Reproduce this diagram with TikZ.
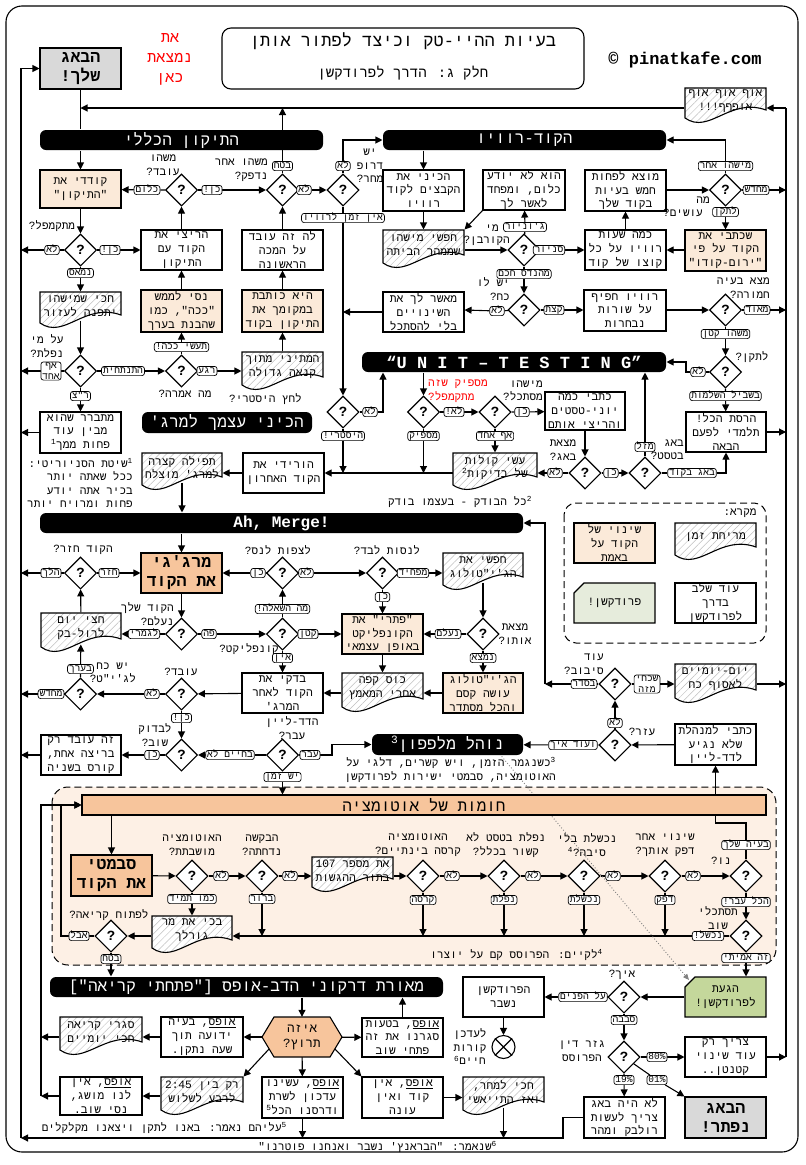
\documentclass[tikz,border=0pt]{standalone}
\usepackage{fontspec}
\usetikzlibrary{arrows.meta,shapes.geometric,patterns.meta}
\newfontfamily\hebfont[Script=Hebrew]{Liberation Mono}
\TeXXeTstate=1
\definecolor{peachL}{HTML}{FBEAD9}
\definecolor{peachD}{HTML}{F7C59C}
\definecolor{regionF}{HTML}{FDF0E5}
\definecolor{grayB}{HTML}{D9D9D9}
\definecolor{greenD}{HTML}{C4D79B}
\definecolor{greenL}{HTML}{E6ECDC}
\pgfdeclarelayer{back}\pgfdeclarelayer{edges}
\pgfsetlayers{back,edges,main}
\newcommand\rtl[1]{\beginR#1\endR}
\newcommand\ltr[1]{\beginL#1\endL}
\newcommand\ulh[1]{\underline{\beginR#1\endR}}
\newcommand\supn[1]{\textsuperscript{#1}}
\tikzset{
 lw/.style={line width=1.1pt},
 bx/.style={draw, lw, fill=white, align=center, inner sep=0pt, font=\hebfont\fontsize{11.2}{13.8}\selectfont},
 pL/.style={fill=peachL}, pD/.style={fill=peachD}, gB/.style={fill=grayB},
 big/.style={font=\hebfont\bfseries\fontsize{16.5}{19}\selectfont},
 bar/.style={fill=black, draw=none, rounded corners=6pt, text=white, font=\hebfont\fontsize{16}{16}\selectfont},
 dia/.style={diamond, draw, lw, fill=white, minimum width=32pt, minimum height=32pt, inner sep=0pt, font=\hebfont\bfseries\fontsize{14}{14}\selectfont},
 lb/.style={draw, line width=0.7pt, rounded corners=2.5pt, fill=white, inner xsep=1.5pt, inner ysep=0.6pt, text height=6pt, text depth=2pt, font=\hebfont\fontsize{9.5}{10}\selectfont},
 lb2/.style={draw, line width=0.7pt, rounded corners=2.5pt, fill=white, inner xsep=1.5pt, inner ysep=1pt, align=center, font=\hebfont\fontsize{9.5}{10.5}\selectfont},
 qt/.style={inner sep=0pt, align=center, font=\hebfont\fontsize{11}{13.5}\selectfont},
 arr/.style={lw, -{Triangle[length=7pt,width=7pt]}},
 ln/.style={lw},
 docsh/.style={draw, lw, preaction={fill=white}, pattern={Lines[angle=45,distance=5pt,line width=0.5pt]}, pattern color=gray!50},
}
\newcommand\BX[7][]{\node[bx,#1,minimum width={(#5-#3)*1pt},minimum height={(#6-#4)*1pt}] (#2) at ({(#3+#5)/2},{(#4+#6)/2}) {#7};}
\newcommand\DOC[6]{%
 \path[docsh] (#2,#3) -- (#4,#3) -- (#4,#5-13) .. controls ({#2+0.55*(#4-#2)},#5-26) and ({#2+0.3*(#4-#2)},#5+12) .. (#2,#5-5) -- cycle;
 \node[bx,draw=none,fill=none,minimum width={(#4-#2)*1pt},minimum height={(#5-#3-8)*1pt}] (#1) at ({(#2+#4)/2},{(#3+#5-8)/2}) {#6};}
\newcommand\GRN[7][]{%
 \path[draw,lw,fill=#1] (#3+10,#4) -- (#5,#4) -- (#5,#6) -- (#3,#6) -- (#3,#4+10) -- cycle;
 \node[bx,draw=none,fill=none,minimum width={(#5-#3)*1pt},minimum height={(#6-#4)*1pt}] (#2) at ({(#3+#5)/2},{(#4+#6)/2}) {#7};}
\begin{document}
\begin{tikzpicture}[x=1pt,y=-1pt]
\useasboundingbox (0,0) rectangle (806,1165);
\begin{pgfonlayer}{back}
\draw[lw, rounded corners=16pt] (6,6) rectangle (798,1152);
\draw[line width=1pt, dash pattern=on 7pt off 4pt, fill=regionF, rounded corners=16pt] (52,787) rectangle (776,965);
\draw[line width=1pt, dash pattern=on 7pt off 4pt, rounded corners=12pt] (564,503) rectangle (766,643);
\end{pgfonlayer}
% ---------- header
\node[draw, lw, rounded corners=9pt, minimum width=362pt, minimum height=61pt] (title) at (403,58.5) {};
\node[qt, font=\hebfont\fontsize{17}{17}\selectfont] (t1) at (403,41) {\rtl{בעיות ההיי-טק וכיצד לפתור אותן}};
\node[qt, font=\hebfont\fontsize{14}{14}\selectfont] (t2) at (403,73) {\rtl{חלק ג: הדרך לפרודקשן}};
\node[qt, font=\hebfont\bfseries\fontsize{17}{17}\selectfont] (site) at (685,60) {© pinatkafe.com};
\node[qt, text=red, font=\hebfont\fontsize{15}{20}\selectfont] (here) at (170,59) {\rtl{את}\\\rtl{נמצאת}\\\rtl{כאן}};
\BX[gB,big]{bug1}{40}{48}{121}{89}{\rtl{הבאג}\\\rtl{שלך!}}
\DOC{oof}{685}{88}{766}{123}{\rtl{אוף אוף אוף}\\\rtl{אופףף!!!}}
% ---------- general fix
\BX[bar]{barFix}{40}{130}{323}{150}{\rtl{התיקון הכללי}}
\BX[pL]{kod}{40}{170}{121}{208}{\rtl{קודדי את}\\\rtl{"התיקון"}}
\node[dia] (dWorks) at (181.5,190) {?};
\node[qt] (qWorks) at (163,165) {\rtl{משהו}\\\rtl{עובד?}};
\node[lb] (lbNothing) at (147,190) {\rtl{כלום}};
\node[lb] (lbYes1) at (212,190) {\rtl{כן!}};
\node[dia] (dOther) at (282.5,190) {?};
\node[qt,anchor=east,align=right] (qOther) at (268,170) {\rtl{משהו אחר}\\\rtl{נדפק?}};
\node[lb] (lbSure) at (282.5,166) {\rtl{בטח}};
\node[lb] (lbNo1) at (304,190) {\rtl{לא}};
\node[dia] (dDrop) at (343,190) {?};
\node[qt] (qDrop) at (370,166) {\rtl{יש}\\\rtl{דרופ}\\\rtl{מחר?}};
\node[lb] (lbNo2) at (343,166) {\rtl{לא}};
\node[lb] (lbNoTime) at (343,218) {\rtl{אין זמן לרוויו}};
\node[dia] (dCompile) at (80.5,250) {?};
\node[qt] (qCompile) at (52,226) {\rtl{מתקמפל?}};
\node[lb] (lbNo3) at (52,250) {\rtl{לא}};
\node[lb] (lbYes2) at (110,250) {\rtl{כן!}};
\BX{run}{141}{230}{222}{270}{\rtl{הריצי את}\\\rtl{הקוד עם}\\\rtl{התיקון}}
\BX{works1}{242}{230}{323}{270}{\rtl{לה זה עובד}\\\rtl{על המכה}\\\rtl{הראשונה}}
\DOC{wait}{40}{292}{121}{328}{\rtl{חכי שמישהו}\\\rtl{יתפנה לעזור}}
\node[lb] (lbFedUp) at (80.5,273) {\rtl{נמאס}};
\node[dia] (dWho) at (80.5,371) {?};
\node[qt] (qWho) at (47,346) {\rtl{על מי}\\\rtl{נפלת?}};
\node[lb2] (lbNobody) at (51,371) {\rtl{אף}\\\rtl{אחד}};
\node[lb] (lbOp) at (123,371) {\rtl{התנתחית}};
\node[dia] (dSaid) at (181.5,371) {?};
\node[qt] (qSaid) at (185,394) {\rtl{מה אמרה?}};
\node[lb] (lbDo) at (181.5,347) {\rtl{תעשי ככה!}};
\BX[pL]{tryit}{141}{290}{222}{332}{\rtl{נסי לממש}\\\rtl{"ככה", כמו}\\\rtl{שהבנת בערך}}
\node[lb] (lbWait) at (207,371) {\rtl{רגע}};
\DOC{jealous}{242}{352}{323}{390}{\rtl{המתיני מתוך}\\\rtl{קנאה גדולה}}
\BX[pL]{shewrites}{242}{290}{323}{332}{\rtl{היא כותבת}\\\rtl{במקומך את}\\\rtl{התיקון בקוד}}
\node[lb] (lbRZ) at (80.5,396) {\rtl{ר"צ}};
\BX{turns}{40}{412}{121}{453}{\rtl{מתברר שהוא}\\\rtl{מבין עוד}\\\rtl{פחות ממך\supn{1}}}
\node[qt,anchor=east,align=right] (fn1) at (133,483) {\rtl{\supn{1}שיטת הסניוריטי:}\\\rtl{ככל שאתה יותר}\\\rtl{בכיר אתה יודע}\\\rtl{פחות ומרויח יותר}};
% ---------- code review
\BX[bar]{barCR}{383}{130}{666}{150}{\rtl{הקוד-רוויו}}
\BX{prep}{383}{170}{464}{211}{\rtl{הכיני את}\\\rtl{הקבצים לקוד}\\\rtl{רוויו}}
\DOC{hurry}{383}{230}{464}{268}{\rtl{חפשי מישהו}\\\rtl{שממהר הביתה}}
\BX{junior}{483}{170}{565}{210}{\rtl{הוא לא יודע}\\\rtl{כלום, ומפחד}\\\rtl{לאשר לך}}
\node[dia] (dVictim) at (524,250) {?};
\node[qt] (qVictim1) at (492,228) {\rtl{מי}};
\node[qt,anchor=east] (qVictim2) at (510,241) {\rtl{הקורבן?}};
\node[lb] (lbJunior) at (525,227) {\rtl{ג'וניור}};
\node[lb] (lbSenior) at (549,250) {\rtl{סניור}};
\node[lb] (lbEng) at (524,274) {\rtl{מהנדס חכם}};
\node[dia] (dEnergy) at (524,310) {?};
\node[qt,anchor=east,align=right] (qEnergy) at (510,289) {\rtl{יש לו}\\\rtl{כח?}};
\BX{approve}{383}{292}{464}{332}{\rtl{מאשר לך את}\\\rtl{השינויים}\\\rtl{בלי להסתכל}}
\node[lb] (lbNo4) at (497,311) {\rtl{לא}};
\node[lb] (lbLittle) at (554,310) {\rtl{קצת}};
\BX{skim}{584}{290}{666}{331}{\rtl{רוויו חפיף}\\\rtl{על שורות}\\\rtl{נבחרות}}
\BX{hours}{585}{230}{666}{270}{\rtl{כמה שעות}\\\rtl{רוויו על כל}\\\rtl{קוצו של קוד}}
\BX{five}{585}{170}{666}{211}{\rtl{מוצא לפחות}\\\rtl{חמש בעיות}\\\rtl{בקוד שלך}}
\node[dia] (dWhat) at (725.5,190) {?};
\node[qt] (qWhat1) at (703,200) {\rtl{מה}};
\node[qt] (qWhat2) at (683,213) {\rtl{עושים?}};
\node[lb] (lbSomeoneElse) at (725.5,166) {\rtl{מישהו אחר}};
\node[lb] (lbAgain1) at (756,190) {\rtl{מחדש}};
\node[lb] (lbFix) at (725.5,212) {\rtl{לתקן}};
\BX[pL]{yarum}{685}{230}{766}{271}{\rtl{שכתבי את}\\\rtl{הקוד על פי}\\\rtl{"ירום-קודו"}}
\node[qt,anchor=east,align=right] (qSerious) at (770,288) {\rtl{מצא בעיה}\\\rtl{חמורה?}};
\node[dia] (dSerious) at (725.5,310) {?};
\node[lb] (lbVery) at (757,310) {\rtl{מאוד}};
\node[lb] (lbSmall) at (725.5,334) {\rtl{משהו קטן}};
\node[dia] (dFixQ) at (725.5,372) {?};
\node[qt] (qFixQ) at (752,357) {\rtl{לתקן?}};
\node[lb] (lbNo5) at (698,372) {\rtl{לא}};
\node[lb] (lbPerf) at (725.5,396) {\rtl{בשביל השלמות}};
\BX{destroy}{686}{412}{766}{452}{\rtl{הרסת הכל!}\\\rtl{תלמדי לפעם}\\\rtl{הבאה}}
% ---------- unit testing
\BX[bar,font=\hebfont\bfseries\fontsize{17}{17}\selectfont]{barUT}{362}{352}{666}{372}{“U N I T – T E S T I N G”}
\node[dia] (dEnough) at (423.5,412) {?};
\node[qt,anchor=west,align=left,text=red] (qEnough) at (428,391) {\rtl{מספיק שזה}\\\rtl{מתקמפל?}};
\node[lb] (lbNo6) at (454,412) {\rtl{לא!}};
\node[dia] (dWatch) at (495,412) {?};
\node[qt,anchor=east,align=right] (qWatch) at (543,391) {\rtl{מישהו}\\\rtl{מסתכל?}};
\node[lb] (lbYes3) at (522,412) {\rtl{כן}};
\BX{unittests}{545}{392}{625}{430}{\rtl{כתבי כמה}\\\rtl{יוני-טסטים}\\\rtl{והריצי אותם}}
\node[dia] (dFound) at (585,473) {?};
\node[qt] (qFound) at (563,450) {\rtl{מצאת}\\\rtl{באג?}};
\node[lb] (lbNo7) at (555,473) {\rtl{לא}};
\node[lb] (lbYes4) at (611,473) {\rtl{כן}};
\node[dia] (dBugTest) at (645,473) {?};
\node[qt,anchor=east,align=right] (qBugTest) at (684,450) {\rtl{באג}\\\rtl{בטסט?}};
\node[lb] (lbLuck) at (645,447) {\rtl{מזל}};
\node[lb] (lbBugCode) at (692,473) {\rtl{באג בקוד}};
\DOC{noise}{453}{453}{537}{490}{\rtl{עשי קולות}\\\rtl{של בדיקות\supn{2}}}
\node[lb] (lbAnyone) at (495,436) {\rtl{אף אחד}};
\node[lb] (lbEnoughL) at (423.5,436) {\rtl{מספיק}};
\node[dia] (dHyst) at (343,412) {?};
\node[qt,anchor=east] (qHyst) at (302,399) {\rtl{לחץ היסטרי?}};
\node[lb] (lbNo8) at (370,412) {\rtl{לא}};
\node[lb] (lbHyst) at (343,436) {\rtl{היסטרי!}};
\BX{download}{243}{453}{324}{493}{\rtl{הורידי את}\\\rtl{הקוד האחרון}}
\DOC{pray}{142}{453}{222}{490}{\rtl{תפילה קצרה}\\\rtl{למרג' מוצלח}}
\BX[bar]{barPrep}{142}{412}{312}{433}{\rtl{הכיני עצמך למרג'}}
\node[qt] (fn2) at (460,502) {\rtl{\supn{2}כל הבודק - בעצמו בודק}};
% ---------- merge
\BX[bar,font=\hebfont\bfseries\fontsize{16}{16}\selectfont]{barMerge}{40}{513}{523}{533}{Ah, Merge!}
\BX[pD,big]{merge}{141}{553}{222}{593}{\rtl{מרג'גי}\\\rtl{את הקוד}}
\node[dia] (dBack) at (80.5,573) {?};
\node[qt] (qBack) at (83,550) {\rtl{הקוד חזר?}};
\node[lb] (lbBack) at (109,573) {\rtl{חזר}};
\node[lb] (lbGone) at (51,573) {\rtl{הלך}};
\DOC{halfday}{41}{613}{121}{652}{\rtl{חצי יום}\\\rtl{לרול-בק}}
\node[dia] (dVanish) at (181.5,634) {?};
\node[qt,anchor=east,align=right] (qVanish) at (174,614) {\rtl{הקוד שלך}\\\rtl{נעלם?}};
\node[lb] (lbTotally) at (144,634) {\rtl{לגמרי}};
\node[lb] (lbHere) at (209,634) {\rtl{פה}};
\node[dia] (dConf) at (282.5,634) {?};
\node[qt,anchor=east] (qConf) at (279,649) {\rtl{קונפליקט?}};
\node[lb] (lbSmall2) at (308,634) {\rtl{קטן}};
\BX[pL]{solve}{342}{614}{423}{654}{\rtl{"פתרי" את}\\\rtl{הקונפליקט}\\\rtl{באופן עצמאי}}
\node[lb] (lbNone) at (282.5,658) {\rtl{אין}};
\BX{check}{242}{673}{323}{713}{\rtl{בדקי את}\\\rtl{הקוד לאחר}\\\rtl{המרג'}}
\node[lb] (lbQuestion) at (282.5,609) {\rtl{מה השאלה!}};
\node[dia] (dMiracle) at (282.5,573) {?};
\node[qt] (qMiracle) at (278,550) {\rtl{לצפות לנס?}};
\node[lb] (lbYes5) at (258,573) {\rtl{כן}};
\node[lb] (lbNo9) at (306,573) {\rtl{לא}};
\node[dia] (dAlone) at (382.5,573) {?};
\node[qt] (qAlone) at (387,550) {\rtl{לנסות לבד?}};
\node[lb] (lbYes6) at (382.5,597) {\rtl{כן}};
\node[lb] (lbScary) at (413,573) {\rtl{מפחיד}};
\DOC{gitguru}{443}{553}{523}{590}{\rtl{חפשי את}\\\rtl{הג'י"טולוג}}
\node[dia] (dFoundHim) at (483,634) {?};
\node[qt] (qFoundHim) at (515,634) {\rtl{מצאת}\\\rtl{אותו?}};
\node[lb] (lbVanished) at (448,634) {\rtl{נעלם}};
\node[lb] (lbFound) at (483,658) {\rtl{נמצא}};
\BX[pL]{magic}{443}{673}{523}{713}{\rtl{הג'י"טולוג}\\\rtl{עושה קסם}\\\rtl{והכל מסתדר}}
\DOC{coffee}{342}{673}{423}{712}{\rtl{כוס קפה}\\\rtl{אחרי המאמץ}}
\node[dia] (dWorks2) at (181.5,694) {?};
\node[qt] (qWorks2) at (181,672) {\rtl{עובד?}};
\node[lb] (lbNo10) at (152,694) {\rtl{לא}};
\node[dia] (dGit) at (80.5,694) {?};
\node[qt] (qGit) at (113,673) {\rtl{יש כח}\\\rtl{לג'י"ט?}};
\node[lb] (lbAgain2) at (51,694) {\rtl{מחדש}};
\node[lb] (lbApprox) at (80.5,669) {\rtl{בערך}};
\node[lb] (lbYes7) at (181.5,718) {\rtl{כן!}};
\node[dia] (dAgain) at (181.5,755) {?};
\node[qt] (qAgain) at (155,735) {\rtl{לבדוק}\\\rtl{שוב?}};
\node[lb] (lbYes8) at (152,755) {\rtl{כן}};
\BX{once}{41}{735}{121}{775}{\rtl{זה עובד רק}\\\rtl{בריצה אחת,}\\\rtl{קורס בשניה}}
\node[lb] (lbNever) at (230,755) {\rtl{בחיים לא}};
\node[dia] (dDead) at (282.5,755) {?};
\node[qt] (qDead) at (292,728) {\rtl{הדד-ליין}\\\rtl{עבר?}};
\node[lb] (lbPassed) at (310,755) {\rtl{עבר}};
\BX[bar]{barCuc}{372}{734}{523}{755}{\rtl{נוהל מלפפון\supn{3}}}
\node[lb] (lbTime) at (282.5,777) {\rtl{יש זמן}};
\node[qt,anchor=east,align=right] (fn3) at (556,770) {\rtl{\supn{3}כשנגמר הזמן, ויש קשרים, דלגי על}\\\rtl{האוטומציה, סבמטי ישירות לפרודקשן}};
\node[dia] (dHelped) at (615,745) {?};
\node[qt] (qHelped) at (642,732) {\rtl{עזר?}};
\node[lb] (lbAndHow) at (573,745) {\rtl{ועוד איך}};
\BX{mgr}{675}{724}{756}{765}{\rtl{כתבי למנהלת}\\\rtl{שלא נגיע}\\\rtl{לדד-ליין}}
\node[lb] (lbNo11) at (615,723) {\rtl{לא}};
\node[dia] (dRound) at (615,684) {?};
\node[qt,anchor=east,align=right] (qRound) at (604,664) {\rtl{עוד}\\\rtl{סיבוב?}};
\node[lb2] (lbForget) at (647,684) {\rtl{שכחי}\\\rtl{מזה}};
\DOC{rest}{675}{664}{756}{703}{\rtl{יום-יומיים}\\\rtl{לאסוף כח}}
\node[lb] (lbOK) at (584,684) {\rtl{בסדר}};
% ---------- legend
\node[qt] (lgT) at (740,513) {\rtl{מקרא:}};
\BX[pL]{lg1}{574}{523}{655}{563}{\rtl{שינוי של}\\\rtl{הקוד על}\\\rtl{באמת}}
\DOC{lg2}{675}{523}{756}{560}{\rtl{מריחת זמן}}
\GRN[greenL]{lg3}{574}{583}{655}{623}{\rtl{פרודקשן!}}
\BX{lg4}{675}{583}{756}{623}{\rtl{עוד שלב}\\\rtl{בדרך}\\\rtl{לפרודקשן}}
% ---------- automation
\BX[pD,font=\hebfont\fontsize{16}{16}\selectfont]{barAuto}{82}{795}{766}{815}{\rtl{חומות של אוטומציה}}
\BX[pD,big]{submit}{71}{855}{152}{896}{\rtl{סבמטי}\\\rtl{את הקוד}}
\node[dia] (dDisabled) at (192,876) {?};
\node[qt] (qDisabled) at (192,845) {\rtl{האוטומציה}\\\rtl{מושבתת?}};
\node[lb] (lbNo12) at (221,876) {\rtl{לא}};
\node[dia] (dRejected) at (262,876) {?};
\node[qt] (qRejected) at (262,845) {\rtl{הבקשה}\\\rtl{נדחתה?}};
\node[lb] (lbAsAlways) at (192,899) {\rtl{כמו תמיד}};
\DOC{cry}{152}{916}{232}{953}{\rtl{בכי את מר}\\\rtl{גורלך}}
\node[dia] (dOpen) at (111,936) {?};
\node[qt] (qOpen) at (109,915) {\rtl{לפתוח קריאה?}};
\node[lb] (lbBut) at (79,936) {\rtl{אבל}};
\node[lb] (lbSure2) at (111,959) {\rtl{בטח}};
\node[lb] (lbClear) at (262,899) {\rtl{ברור}};
\node[lb] (lbNo13) at (290,876) {\rtl{לא}};
\DOC{q107}{312}{857}{393}{892}{\rtl{את מספר \ltr{107}}\\\rtl{בתור ההגשות}}
\node[dia] (dCrash) at (423,876) {?};
\node[qt] (qCrash) at (418,845) {\rtl{האוטומציה}\\\rtl{קרסה בינתיים?}};
\node[lb] (lbNo14) at (452,876) {\rtl{לא}};
\node[lb] (lbCrash) at (423,900) {\rtl{קרסה}};
\node[dia] (dUnrel) at (504,876) {?};
\node[qt] (qUnrel) at (506,845) {\rtl{נפלת בטסט לא}\\\rtl{קשור בכלל?}};
\node[lb] (lbNo15) at (533,876) {\rtl{לא}};
\node[lb] (lbFell) at (504,900) {\rtl{נפלת}};
\node[dia] (dFlaky) at (584,876) {?};
\node[qt] (qFlaky) at (587,845) {\rtl{נכשלת בלי}\\\rtl{סיבה?\supn{4}}};
\node[lb] (lbNo16) at (613,876) {\rtl{לא}};
\node[lb] (lbFailed) at (584,900) {\rtl{נכשלת}};
\node[dia] (dOtherCh) at (665,876) {?};
\node[qt] (qOtherCh) at (665,845) {\rtl{שינוי אחר}\\\rtl{דפק אותך?}};
\node[lb] (lbNo17) at (693,876) {\rtl{לא}};
\node[lb] (lbBroke) at (665,900) {\rtl{דפק}};
\node[dia] (dNu) at (746,876) {?};
\node[qt] (qNu) at (721,861) {\rtl{נו?}};
\node[lb] (lbYours) at (746,845) {\rtl{בעיה שלך}};
\node[lb] (lbAllPass) at (746,902) {\rtl{הכל עבר!}};
\node[dia] (dLook) at (746,936) {?};
\node[qt] (qLook) at (718,918) {\rtl{תסתכלי}\\\rtl{שוב}};
\node[lb] (lbFailed2) at (708,936) {\rtl{נכשל!}};
\node[lb] (lbReal) at (746,958) {\rtl{זה אמיתי}};
\node[qt,anchor=east] (fn4) at (603,955) {\rtl{\supn{4}לקיים: הפרוסס קם על יוצרו}};
% ---------- bottom
\GRN[greenD]{arrived}{685}{977}{766}{1017}{\rtl{הגעת}\\\rtl{לפרודקשן!}}
\node[dia] (dHow) at (624,997) {?};
\node[qt] (qHow) at (622,975) {\rtl{איך?}};
\node[lb] (lbBad) at (583,997) {\rtl{על הפנים}};
\BX{broken}{463}{977}{544}{1017}{\rtl{הפרודקשן}\\\rtl{נשבר}}
\node[draw,circle,lw,minimum size=23pt,inner sep=0pt] (endc) at (503.5,1047) {};
\draw[lw] (endc.north west) -- (endc.south east) (endc.north east) -- (endc.south west);
\node[qt] (qEnd) at (470,1047) {\rtl{לעדכן}\\\rtl{קורות}\\\rtl{חיים\supn{6}}};
\node[lb] (lbCool) at (624,1020) {\rtl{סבבה}};
\node[dia] (dVerdict) at (624,1057) {?};
\node[qt] (qVerdict) at (582,1051) {\rtl{גזר דין}\\\rtl{הפרוסס}};
\node[lb] (lb80) at (657,1057) {80\%};
\BX{tiny}{685}{1037}{766}{1077}{\rtl{צריך רק}\\\rtl{עוד שינוי}\\\rtl{קטנטן..}}
\node[lb] (lb19) at (624,1080) {19\%};
\BX{nobug}{584}{1097}{665}{1138}{\rtl{לא היה באג}\\\rtl{צריך לעשות}\\\rtl{רולבק ומהר}}
\node[lb] (lb01) at (657,1080) {01\%};
\BX[gB,big]{solved}{685}{1097}{766}{1138}{\rtl{הבאג}\\\rtl{נפתר!}}
\BX[bar]{barDragon}{50}{977}{443}{997}{\rtl{מאורת דרקוני הדב-אופס ["פתחתי קריאה"]}}
\path[lw, draw, fill=peachD] (262,1037) -- (274,1017) -- (330,1017) -- (342,1037) -- (330,1057) -- (274,1057) -- cycle;
\node[qt, font=\hebfont\fontsize{12.5}{15}\selectfont, minimum width=80pt, minimum height=40pt] (hex) at (302,1037) {\rtl{איזה}\\\rtl{תרוץ?}};
\BX{reopen}{362}{1018}{443}{1057}{\rtl{\ulh{אופס}, בטעות}\\\rtl{סגרנו את זה}\\\rtl{פתחי שוב}}
\BX{known}{161}{1017}{243}{1057}{\rtl{\ulh{אופס}, בעיה}\\\rtl{ידועה תוך}\\\rtl{שעה נתקן.}}
\DOC{close2d}{60}{1017}{142}{1055}{\rtl{סגרי קריאה}\\\rtl{חכי יומיים}}
\DOC{quarter}{161}{1077}{243}{1115}{\rtl{רק בין \ltr{2:45}}\\\rtl{לרבע לשלוש}}
\BX{noidea}{60}{1077}{142}{1115}{\rtl{\ulh{אופס}, אין}\\\rtl{לנו מושג,}\\\rtl{נסי שוב.}}
\BX{update}{262}{1077}{343}{1118}{\rtl{\ulh{אופס}, עשינו}\\\rtl{עדכון לשרת}\\\rtl{ודרסנו הכל\supn{5}}}
\BX{nocode}{362}{1077}{443}{1118}{\rtl{\ulh{אופס}, אין}\\\rtl{קוד ואין}\\\rtl{עונה}}
\DOC{tomorrow}{463}{1077}{544}{1115}{\rtl{חכי למחר,}\\\rtl{ואז התייאשי}}
\node[qt,anchor=east] (fn5) at (287,1128) {\rtl{\supn{5}עליהם נאמר: באנו לתקן ויצאנו מקלקלים}};
\node[qt,anchor=east] (fn6) at (497,1147) {\rtl{\supn{6}שנאמר: "הבראנץ' נשבר ואנחנו פוטרנו"}};
% ================= connectors
\begin{pgfonlayer}{edges}
\coordinate (jTop) at (80.5,108);
\coordinate (rTop) at (786,108);
\coordinate (rBot) at (786,1057);
\coordinate (lTop) at (21,68.5);
\coordinate (lBot) at (21,1138);
\coordinate (bR) at (563,1138);
\draw[ln] (bug1.south) -- (bug1.south |- barFix.north);
\draw[arr] (kod.north |- barFix.south) -- (kod.north);
\draw[arr] (oof.west |- jTop) -- (jTop);
\draw[arr] (dOther) -- (lbSure) -- (dOther |- jTop);
\draw[ln] (rBot) -- (rTop);
\draw[arr] (rTop) -- (oof.east |- rTop);
\draw[arr] (lBot) -- (lTop) -- (bug1);
\draw[arr] (nobug.west) -| (bR) -- (lBot);
\draw[arr] (tomorrow.south) -- (tomorrow.south |- bR);
\draw[arr] (update) -- (update |- bR);
\draw[arr] (dCompile) -- (lbNo3) -- (dCompile -| lTop);
\draw[arr] (dWho) -- (lbNobody) -- (dWho -| lTop);
\draw[arr] (turns) -- (turns -| lTop);
\draw[arr] (dBack) -- (lbGone) -- (dBack -| lTop);
\draw[arr] (dGit) -- (lbAgain2) -- (dGit -| lTop);
\draw[arr] (once) -- (once -| lTop);
\draw[arr] (dWhat) -- (lbAgain1) -- (dWhat -| rTop);
\draw[arr] (dSerious) -- (lbVery) -- (dSerious -| rTop);
\draw[arr] (destroy) -- (destroy -| rTop);
\draw[arr] (rest.east |- dRound) -- (dRound -| rTop);
\draw[arr] (tiny) -- (rBot);
\draw[arr] (dWorks) -- (lbNothing) -- (kod);
\draw[arr] (dWorks) -- (lbYes1) -- (dOther);
\draw[arr] (run) -- (dWorks);
\draw[arr] (works1) -- (dOther);
\draw[arr] (dOther) -- (lbNo1) -- (dDrop);
\draw[arr] (dDrop) -- (lbNo2) -- (dDrop |- barCR) -- (barCR);
\draw[arr] (dDrop) -- (lbNoTime) -- (dHyst);
\draw[arr] (approve) -- (approve -| dDrop);
\draw[arr] (dCompile) -- (lbYes2) -- (run);
\draw[arr] (kod) -- (dCompile);
\draw[arr] (dCompile) -- (lbFedUp) -- (wait);
\draw[arr] (wait) -- (dWho);
\draw[arr] (dWho) -- (lbOp) -- (dSaid);
\draw[arr] (dSaid) -- (lbDo) -- (tryit);
\draw[arr] (tryit) -- (run);
\draw[arr] (dSaid) -- (lbWait) -- (jealous.west |- dSaid);
\draw[arr] (jealous) -- (shewrites);
\draw[arr] (shewrites) -- (works1);
\draw[arr] (dWho) -- (lbRZ) -- (turns);
\draw[arr] (prep.north |- barCR.south) -- (prep.north);
\draw[arr] (prep) -- (hurry);
\draw[arr] (hurry.east |- dVictim) -- (dVictim);
\draw[arr] (dVictim) -- (lbJunior) -- (junior);
\draw[arr] (junior.south west) -- (hurry.north east);
\draw[arr] (dVictim) -- (lbSenior) -- (hours);
\draw[arr] (dVictim) -- (lbEng) -- (dEnergy);
\draw[arr] (dEnergy) -- (lbNo4) -- (approve.east |- dEnergy);
\draw[arr] (dEnergy) -- (lbLittle) -- (skim.west |- dEnergy);
\draw[arr] (skim.east |- dSerious) -- (dSerious);
\draw[arr] (hours) -- (five);
\draw[arr] (five.east |- dWhat) -- (dWhat);
\draw[arr] (dWhat) -- (lbFix) -- (yarum);
\draw[arr] (yarum.west |- hours) -- (hours);
\draw[arr] (dWhat) -- (lbSomeoneElse) -- (dWhat |- barCR) -- (barCR);
\draw[arr] (dSerious) -- (lbSmall) -- (dFixQ);
\coordinate (k1) at (686,372);
\draw[arr] (dFixQ) -- (lbNo5) -- (k1) |- (barUT);
\draw[arr] (dFixQ) -- (lbPerf) -- (destroy);
\draw[arr] (dEnough |- barUT.south) -- (dEnough);
\draw[arr] (dEnough) -- (lbNo6) -- (dWatch);
\draw[arr] (dWatch) -- (lbYes3) -- (unittests);
\draw[arr] (unittests) -- (dFound);
\draw[arr] (dFound) -- (lbNo7) -- (noise.east |- dFound);
\draw[arr] (dFound) -- (lbYes4) -- (dBugTest);
\draw[arr] (dBugTest) -- (lbLuck) -- (dBugTest |- barUT.south);
\draw[arr] (dBugTest) -- (lbBugCode) -- (destroy.south |- dBugTest) -- (destroy.south);
\draw[arr] (dWatch) -- (lbAnyone) -- (dWatch |- noise.north);
\coordinate (h1) at (453,473);
\draw[arr] (h1) -- (download.east |- h1);
\draw[arr] (dEnough) -- (lbEnoughL) -- (dEnough |- h1);
\draw[arr] (dHyst) -- (lbHyst) -- (dHyst |- h1);
\coordinate (k2) at (383,412);
\draw[arr] (dHyst) -- (lbNo8) -- (k2) -- (k2 |- barUT.south);
\draw[arr] (download.west) -- (pray.east |- download.west);
\draw[arr] (pray) -- (pray |- barMerge.north);
\draw[arr] (merge |- barMerge.south) -- (merge);
\coordinate (k3) at (545,684);
\draw[arr] (dRound) -- (lbOK) -- (k3);
\draw[arr] (k3) |- (barMerge);
\draw[arr] (dBack) -- (lbBack) -- (merge);
\draw[arr] (halfday) -- (dBack);
\draw[arr] (merge) -- (dVanish);
\draw[arr] (dVanish) -- (lbTotally) -- (halfday.east |- dVanish);
\draw[arr] (dVanish) -- (lbHere) -- (dConf);
\draw[arr] (dConf) -- (lbSmall2) -- (solve);
\draw[arr] (dConf) -- (lbNone) -- (check);
\draw[arr] (dConf) -- (lbQuestion) -- (dMiracle);
\draw[arr] (dMiracle) -- (lbYes5) -- (merge);
\draw[arr] (dMiracle) -- (lbNo9) -- (dAlone);
\draw[arr] (dAlone) -- (lbYes6) -- (solve);
\draw[arr] (dAlone) -- (lbScary) -- (gitguru.west |- dAlone);
\draw[arr] (gitguru) -- (dFoundHim);
\draw[arr] (dFoundHim) -- (lbVanished) -- (solve);
\draw[arr] (dFoundHim) -- (lbFound) -- (magic);
\draw[arr] (magic) -- (coffee.east |- magic);
\draw[arr] (solve) -- (coffee);
\draw[arr] (coffee.west |- check) -- (check);
\draw[arr] (check) -- (dWorks2);
\draw[arr] (dWorks2) -- (lbNo10) -- (dGit);
\draw[arr] (dGit) -- (lbApprox) -- (halfday);
\draw[arr] (dWorks2) -- (lbYes7) -- (dAgain);
\draw[arr] (dAgain) -- (lbYes8) -- (once);
\draw[arr] (dDead) -- (lbNever) -- (dAgain);
\coordinate (k7) at (332,755);
\draw[arr] (dDead) -- (lbPassed) -- (k7) |- (barCuc);
\draw[arr] (dDead) -- (lbTime) -- (dDead |- barAuto.north);
\draw[arr] (dHelped) -- (lbAndHow) -- (barCuc);
\draw[arr] (mgr) -- (dHelped);
\draw[arr] (dHelped) -- (lbNo11) -- (dRound);
\draw[arr] (dRound) -- (lbForget) -- (rest.west |- dRound);
\coordinate (k4) at (746,823);
\draw[arr] (dNu) -- (lbYours) -- (k4) -| (mgr);
\draw[arr] (submit |- barAuto.south) -- (submit);
\draw[arr] (submit) -- (dDisabled);
\draw[arr] (dDisabled) -- (lbNo12) -- (dRejected);
\draw[arr] (dDisabled) -- (lbAsAlways) -- (cry);
\draw[arr] (dRejected) -- (lbNo13) -- (q107.west |- dRejected);
\draw[arr] (q107.east |- dCrash) -- (dCrash);
\draw[arr] (dCrash) -- (lbNo14) -- (dUnrel);
\draw[arr] (dUnrel) -- (lbNo15) -- (dFlaky);
\draw[arr] (dFlaky) -- (lbNo16) -- (dOtherCh);
\draw[arr] (dOtherCh) -- (lbNo17) -- (dNu);
\draw[arr] (dRejected) -- (lbClear) -- (dRejected |- dLook);
\draw[arr] (dCrash) -- (lbCrash) -- (dCrash |- dLook);
\draw[arr] (dUnrel) -- (lbFell) -- (dUnrel |- dLook);
\draw[arr] (dFlaky) -- (lbFailed) -- (dFlaky |- dLook);
\draw[arr] (dOtherCh) -- (lbBroke) -- (dOtherCh |- dLook);
\draw[arr] (dNu) -- (lbAllPass) -- (dLook);
\draw[arr] (dLook) -- (lbFailed2) -- (cry.east |- dLook);
\draw[arr] (cry.west |- dOpen) -- (dOpen);
\coordinate (k5) at (61,936);
\draw[arr] (dOpen) -- (lbBut) -- (k5) |- (barAuto);
\coordinate (k6) at (41,1096);
\draw[arr] (k6) |- (barAuto);
\draw[arr] (close2d.west |- known) -- (known -| k6);
\draw[arr] (noidea) -- (k6);
\draw[arr] (dOpen) -- (lbSure2) -- (dOpen |- barDragon.north);
\draw[arr] (dLook) -- (lbReal) -- (dLook |- arrived.north);
\coordinate (dotS) at (498,752);
\coordinate (dotE) at (689,980);
\draw[dotted, line width=0.9pt, color=gray, -{Triangle[length=6pt,width=5pt]}] (dotS) -- (dotE);
\draw[arr] (arrived.west |- dHow) -- (dHow);
\draw[arr] (dHow) -- (lbBad) -- (broken);
\draw[arr] (broken) -- (endc);
\draw[arr] (dHow) -- (lbCool) -- (dVerdict);
\draw[arr] (dVerdict) -- (lb80) -- (tiny);
\draw[arr] (dVerdict) -- (lb19) -- (nobug);
\draw[arr] (dVerdict) -- (lb01) -- (solved.north west);
\draw[arr] (hex |- barDragon.south) -- (hex);
\draw[arr] (hex) -- (reopen);
\draw[arr] (reopen) -- (reopen |- barDragon.south);
\draw[arr] (hex) -- (known);
\draw[arr] (known) -- (close2d.east |- known);
\coordinate (hexSW) at (269,1049);
\coordinate (hexSE) at (335,1049);
\draw[arr] (hexSW) -- (quarter.north east);
\draw[arr] (hexSE) -- (nocode.north west);
\draw[arr] (hex) -- (update);
\draw[arr] (quarter.west |- noidea) -- (noidea);
\draw[arr] (nocode) -- (tomorrow.west |- nocode);
\end{pgfonlayer}
\end{tikzpicture}
\end{document}
